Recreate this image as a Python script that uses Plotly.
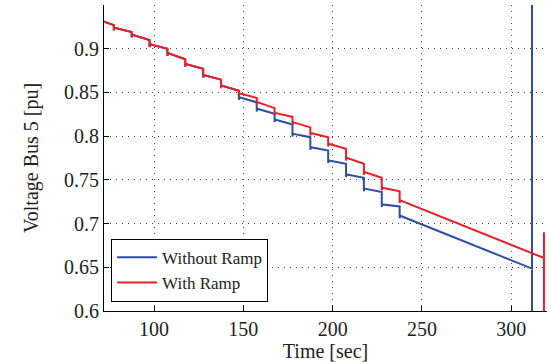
import plotly.graph_objects as go

# ---- data ----
step_times = [77.5, 87.5, 97.5, 107.5, 117.5, 127.5, 137.5, 147.5, 157.5,
              167.5, 177.5, 187.5, 197.5, 207.5, 217.5, 227.5, 237.5]

red_start = (72.0, 0.931)
red_pre = [0.927, 0.919, 0.910, 0.900, 0.888, 0.877, 0.8646, 0.852, 0.8437,
           0.832, 0.822, 0.810, 0.7988, 0.7855, 0.7684, 0.7524, 0.737]
red_post = [0.924, 0.916, 0.905, 0.895, 0.8825, 0.870, 0.858, 0.849, 0.839,
            0.8266, 0.816, 0.8037, 0.7912, 0.7752, 0.7588, 0.741, 0.7265]
red_end_t = 318.3
red_end_v = 0.6606
red_collapse = [0.69, 0.55]

# blue follows red until the step at 147.5 s
blue_split = 7
blue_pre = [0.852, 0.8387, 0.8255, 0.8132, 0.7988, 0.7836, 0.7684, 0.7524, 0.736, 0.7196]
blue_post = [0.8445, 0.8312, 0.819, 0.8026, 0.7873, 0.7722, 0.7562, 0.740, 0.7219, 0.709]
blue_end_t = 311.6
blue_end_v = 0.6485
blue_collapse = [1.0, 0.5]

notch = 0.003      # small transient dip after each tap step
notch_dt = 0.3


def build(start, times, pre, post, end_t, end_v, collapse):
    xs = [start[0]]
    ys = [start[1]]
    for t, a, b in zip(times, pre, post):
        xs += [t, t, t + notch_dt]
        ys += [a, b - notch, b]
    xs.append(end_t)
    ys.append(end_v)
    for c in collapse:
        xs.append(end_t)
        ys.append(c)
    return xs, ys


rx, ry = build(red_start, step_times, red_pre, red_post, red_end_t, red_end_v, red_collapse)

b_pre = red_pre[:blue_split] + blue_pre
b_post = red_post[:blue_split] + blue_post
bx, by = build(red_start, step_times, b_pre, b_post, blue_end_t, blue_end_v, blue_collapse)

FONT = "Liberation Serif"

fig = go.Figure()
fig.add_trace(go.Scatter(x=bx, y=by, mode="lines", name="Without Ramp",
                         line=dict(color="#2e4ea3", width=2)))
fig.add_trace(go.Scatter(x=rx, y=ry, mode="lines", name="With Ramp",
                         line=dict(color="#e8202a", width=2)))

axis_common = dict(
    showline=True, linecolor="black", linewidth=1, mirror=False,
    ticks="inside", ticklen=5, tickcolor="black",
    showgrid=True, griddash="1px,5px", gridcolor="#444444", gridwidth=1,
    zeroline=False,
    tickfont=dict(family=FONT, size=20, color="#222222"),
)

fig.update_layout(
    width=551, height=362,
    margin=dict(l=104, r=4, t=5, b=51),
    paper_bgcolor="white", plot_bgcolor="white",
    font=dict(family=FONT, color="#222222"),
    xaxis=dict(range=[72, 320], tickvals=[100, 150, 200, 250, 300],
               title=dict(text="Time [sec]", font=dict(family=FONT, size=20), standoff=0),
               **axis_common),
    yaxis=dict(range=[0.6, 0.95], tickvals=[0.6, 0.65, 0.7, 0.75, 0.8, 0.85, 0.9],
               ticktext=["0.6", "0.65", "0.7", "0.75", "0.8", "0.85", "0.9"],
               title=dict(text="Voltage Bus 5 [pu]", font=dict(family=FONT, size=20), standoff=20),
               **axis_common),
    legend=dict(x=0.016, y=0.03, xanchor="left", yanchor="bottom",
                bgcolor="white", bordercolor="black", borderwidth=1,
                font=dict(family=FONT, size=17, color="#222222"),
                tracegroupgap=0, itemwidth=40),
    showlegend=True,
)

fig.write_html("out.html", config={"displayModeBar": False})

# remove the default page margin so the figure sits at the window's top-left
with open("out.html", "r", encoding="utf-8") as f:
    html = f.read()
html = html.replace("<body>", '<body style="margin:0;padding:0;">', 1)
html = html.replace("<head>", "<head><style>html,body{margin:0;padding:0;}</style>", 1)
with open("out.html", "w", encoding="utf-8") as f:
    f.write(html)
